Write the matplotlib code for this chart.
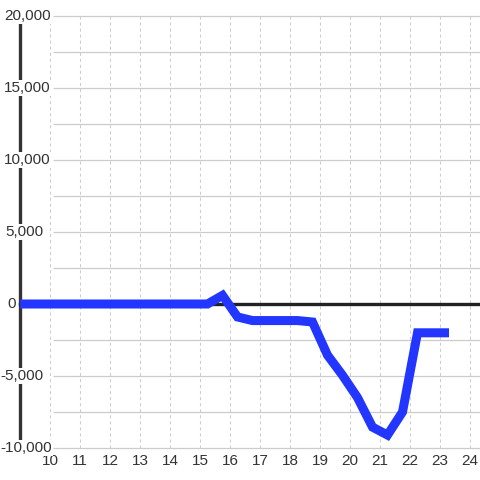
import numpy as np
import matplotlib.pyplot as plt

# data
x_vals = [9.0, 15.25, 15.75, 16.25, 16.75, 17.25, 17.75, 18.25, 18.75, 19.25,
          19.75, 20.25, 20.75, 21.25, 21.75, 22.25, 22.75, 23.3]
y_vals = [0, 0, 600, -900, -1150, -1150, -1150, -1150, -1250, -3550,
          -4950, -6500, -8550, -9100, -7500, -2000, -2000, -2000]

x_ticks = list(range(10, 25))
y_ticks = [20000, 15000, 10000, 5000, 0, -5000, -10000]
y_labels = ['20,000', '15,000', '10,000', '5,000', '0', '-5,000', '-10,000']
y_minor = np.arange(-10000, 20001, 2500)

# label right edges in data x (pixel positions were uneven in the original)
label_right = [10.03, 10.03, 10.03, 9.77, 8.87, 9.77, 10.07]

fig = plt.figure(figsize=(4.8, 4.8), dpi=100)
ax = fig.add_axes([0, 0, 1, 1])
ax.set_xlim(10 - 50 / 30, 10 + 430 / 30)
ax.set_ylim(-176 / 0.0144, 304 / 0.0144)
ax.axis('off')

txt_col = '#333333'
grid_col = '#cccccc'

# horizontal grid
ax.hlines(y_minor, 10 + 3 / 30, 30, color=grid_col, lw=0.9, zorder=1)
# vertical dashed grid
ax.vlines(x_ticks, -10000, 20000, color=grid_col, lw=0.75,
          linestyles=(0, (2.9, 2.9)), zorder=1)

# left axis and zero line
ax.plot([9, 9], [-10000, 19500], color='#333333', lw=2.4, solid_capstyle='butt', zorder=2)
ax.plot([9, 30], [0, 0], color='#222222', lw=2.4, zorder=2)

# series
ax.plot(x_vals, y_vals, color='#2236ff', lw=6.5, solid_joinstyle='miter',
        solid_capstyle='butt', zorder=3)

for v, lab, xr in zip(y_ticks, y_labels, label_right):
    ax.text(xr, v, lab, ha='right', va='center', fontsize=11,
            family='Liberation Sans', color=txt_col, zorder=4,
            bbox=dict(facecolor='white', edgecolor='none', pad=0.6))

for t in x_ticks:
    ax.text(t, -10000 - 13 / 0.0144, str(t), ha='center', va='center',
            fontsize=11, family='Liberation Sans', color=txt_col)

fig.savefig('out.png', dpi=100, facecolor='white')
